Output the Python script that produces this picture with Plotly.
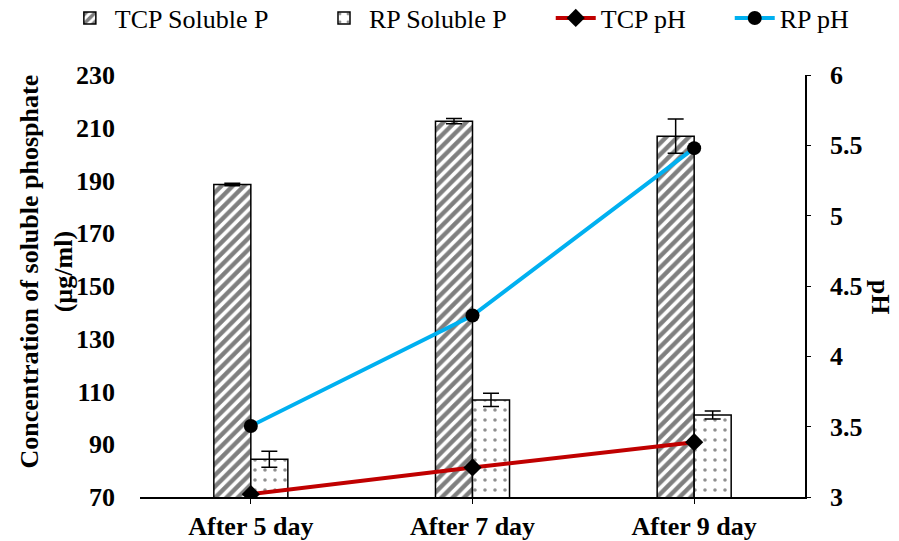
import plotly.graph_objects as go

categories = ["After 5 day", "After 7 day", "After 9 day"]
tcp_soluble = [188.5, 212.5, 206.8]
tcp_soluble_err = [0.5, 1.0, 6.5]
rp_soluble = [84.3, 106.8, 101.1]
rp_soluble_err = [3.0, 2.5, 1.5]
tcp_ph = [3.02, 3.21, 3.39]
rp_ph = [3.505, 4.29, 5.48]

FONT = "Liberation Serif"
FS = 26
NB = "\u00a0"

fig = go.Figure()
fig.add_trace(go.Bar(
    name="TCP Soluble P" + NB * 7, x=categories, y=tcp_soluble,
    error_y=dict(type="data", array=tcp_soluble_err, color="black", thickness=1.5, width=8),
    marker=dict(color="white", line=dict(color="black", width=1.5),
                pattern=dict(shape="/", fgcolor="black", bgcolor="white", size=8, solidity=0.55)),
))
fig.add_trace(go.Bar(
    name="RP Soluble P" + NB * 6, x=categories, y=rp_soluble,
    error_y=dict(type="data", array=rp_soluble_err, color="black", thickness=1.5, width=8),
    marker=dict(color="white", line=dict(color="black", width=1.5),
                pattern=dict(shape=".", fgcolor="#222222", bgcolor="white", size=10, solidity=0.1)),
))
fig.add_trace(go.Scatter(
    name="TCP pH" + NB * 6, x=categories, y=tcp_ph, yaxis="y2", mode="lines+markers",
    line=dict(color="#C00000", width=4),
    marker=dict(symbol="diamond", color="black", size=14),
))
fig.add_trace(go.Scatter(
    name="RP pH", x=categories, y=rp_ph, yaxis="y2", mode="lines+markers",
    line=dict(color="#00B0F0", width=4),
    marker=dict(symbol="circle", color="black", size=14),
))

fig.update_layout(
    width=899, height=541,
    margin=dict(l=140, r=94, t=75, b=44, autoexpand=False),
    paper_bgcolor="white", plot_bgcolor="white",
    font=dict(family=FONT, size=FS, color="black"),
    barmode="group", bargap=0.666, bargroupgap=0,
    showlegend=True,
    legend=dict(orientation="h", x=-0.113, xanchor="left", y=1.135, yanchor="middle",
                font=dict(family=FONT, size=FS), itemwidth=40, tracegroupgap=0),
    xaxis=dict(showline=True, linecolor="black", linewidth=1.5, ticks="outside",
               ticklen=5, tickcolor="black", showgrid=False,
               tickfont=dict(family=FONT, size=FS, weight="bold"), ticklabelstandoff=0),
    yaxis=dict(range=[70, 230], tickvals=[70, 90, 110, 130, 150, 170, 190, 210, 230],
               showline=False, showgrid=False, zeroline=False, ticks="",
               ticklabelstandoff=24,
               tickfont=dict(family=FONT, size=FS, weight="bold")),
    yaxis2=dict(range=[3, 6], tickvals=[3, 3.5, 4, 4.5, 5, 5.5, 6],
                ticktext=["3", "3.5", "4", "4.5", "5", "5.5", "6"],
                overlaying="y", side="right", showline=True, linecolor="black", linewidth=1.5,
                ticks="outside", ticklen=4, tickcolor="black", showgrid=False, zeroline=False,
                ticklabelstandoff=14,
                tickfont=dict(family=FONT, size=FS, weight="bold")),
)
fig.add_annotation(text="Concentration of soluble phosphate<br>(µg/ml)", xref="paper", yref="paper",
                   x=-0.141, y=0.535, xanchor="center", yanchor="middle", showarrow=False,
                   textangle=-90, font=dict(family=FONT, size=FS, weight="bold"))
fig.add_annotation(text="pH", xref="paper", yref="paper", x=1.113, y=0.474,
                   xanchor="center", yanchor="middle", showarrow=False,
                   textangle=90, font=dict(family=FONT, size=FS, weight="bold"))

fig.write_html("out.html")
